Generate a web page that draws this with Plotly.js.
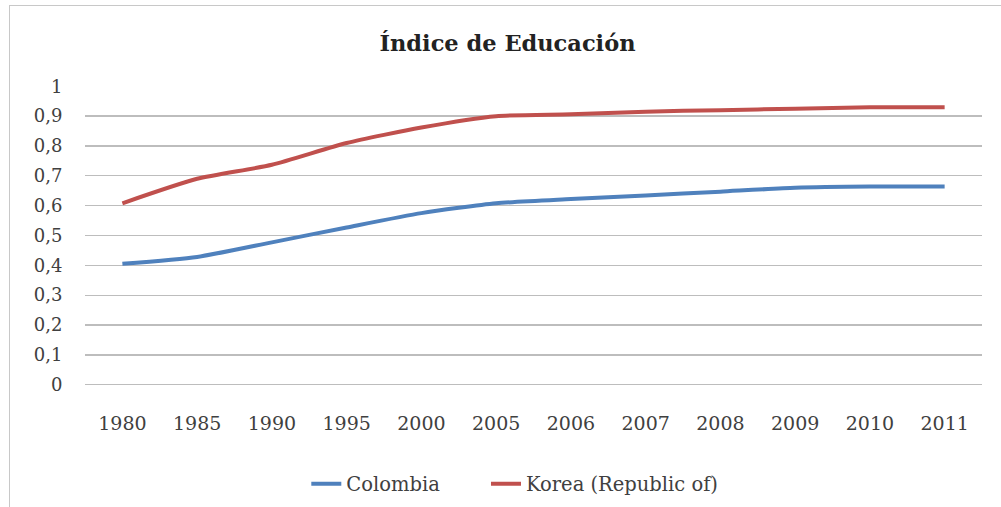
<!DOCTYPE html>
<html>
<head>
<meta charset="utf-8">
<script src="https://cdn.plot.ly/plotly-3.0.1.min.js"></script>
<style>
html,body{margin:0;padding:0;background:#fff;}
#chart{width:1001px;height:507px;position:relative;}
#frame{position:absolute;left:9px;top:5px;width:1100px;height:600px;border:1.5px solid #c8c8c8;pointer-events:none;box-sizing:border-box;}
</style>
</head>
<body>
<div id="chart"></div>
<div id="frame"></div>
<script>
const years = ["1980","1985","1990","1995","2000","2005","2006","2007","2008","2009","2010","2011"];
const colombia = [0.405,0.428,0.477,0.527,0.575,0.608,0.622,0.634,0.647,0.660,0.664,0.664];
const korea = [0.608,0.690,0.737,0.810,0.862,0.900,0.906,0.915,0.920,0.925,0.930,0.930];
const seriesNames = ["Colombia","Korea (Republic of)"];
const titleText = "Índice de Educación";

const fontFam = "DejaVu Serif, Liberation Serif, serif";
const traces = [
  {x: years, y: colombia, name: seriesNames[0], type: "scatter", mode: "lines", legend: "legend",
   line: {color: "#4F81BD", width: 4, shape: "spline", smoothing: 0.6}},
  {x: years, y: korea, name: seriesNames[1], type: "scatter", mode: "lines", legend: "legend2",
   line: {color: "#C0504D", width: 4, shape: "spline", smoothing: 0.6}}
];
const legendBase = {orientation: "h", xref: "container", yref: "container", xanchor: "left",
  y: 0.045, yanchor: "middle", font: {family: fontFam, size: 19.5, color: "#404040"},
  itemwidth: 30, bgcolor: "rgba(0,0,0,0)"};
const layout = {
  width: 1001, height: 507,
  margin: {l: 85, r: 19, t: 86, b: 122},
  paper_bgcolor: "#ffffff", plot_bgcolor: "#ffffff",
  separators: ",.",
  font: {family: fontFam, color: "#404040", size: 17},
  title: {text: "<b>" + titleText + "</b>", x: 0.507, xref: "container", y: 0.915, yref: "container",
          xanchor: "center", yanchor: "middle", font: {family: fontFam, size: 22.5, color: "#222"}},
  xaxis: {type: "category", range: [-0.5, 11.5], showgrid: false, zeroline: false, showline: false,
          ticks: "outside", ticklen: 21, tickcolor: "rgba(0,0,0,0)",
          tickfont: {family: fontFam, size: 19, color: "#404040"}},
  yaxis: {range: [-0.001, 1.001], dtick: 0.1, tick0: 0, showgrid: true, gridcolor: "#bdbdbd", gridwidth: 1.3,
          zeroline: true, zerolinecolor: "#bdbdbd", zerolinewidth: 1.3, showline: false,
          ticks: "outside", ticklen: 18, tickcolor: "rgba(0,0,0,0)",
          tickfont: {family: fontFam, size: 18, color: "#404040"}},
  showlegend: true,
  legend: Object.assign({}, legendBase, {x: 0.306}),
  legend2: Object.assign({}, legendBase, {x: 0.4855})
};
Plotly.newPlot("chart", traces, layout, {staticPlot: true, displayModeBar: false});
</script>
</body>
</html>
